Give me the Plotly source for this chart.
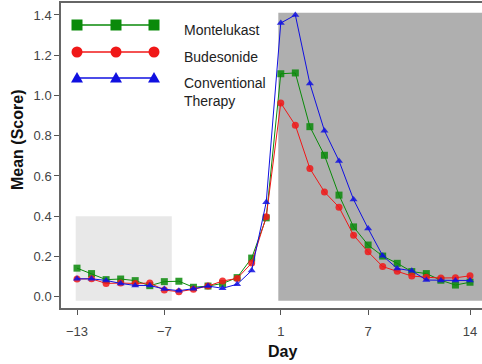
import plotly.graph_objects as go

days = [-13, -12, -11, -10, -9, -8, -7, -6, -5, -4, -3, -2, -1, 0,
        1, 2, 3, 4, 5, 6, 7, 8, 9, 10, 11, 12, 13, 14]

montelukast = [0.142, 0.115, 0.085, 0.088, 0.080, 0.055, 0.075, 0.077, 0.047, 0.053, 0.066, 0.095, 0.192, 0.392,
               1.108, 1.112, 0.845, 0.703, 0.505, 0.347, 0.257, 0.202, 0.166, 0.125, 0.115, 0.082, 0.058, 0.072]
budesonide = [0.088, 0.089, 0.066, 0.068, 0.066, 0.068, 0.033, 0.025, 0.037, 0.053, 0.078, 0.091, 0.167, 0.397,
              0.963, 0.852, 0.637, 0.521, 0.445, 0.306, 0.223, 0.150, 0.126, 0.103, 0.097, 0.093, 0.094, 0.104]
conventional = [0.089, 0.089, 0.081, 0.066, 0.056, 0.056, 0.038, 0.030, 0.040, 0.053, 0.042, 0.062, 0.130, 0.470,
                1.360, 1.400, 1.059, 0.825, 0.675, 0.483, 0.339, 0.204, 0.140, 0.129, 0.083, 0.081, 0.081, 0.081]

series_names = ["Montelukast", "Budesonide", "Conventional<br>Therapy"]
series_values = [montelukast, budesonide, conventional]
series_colors = ["#0a8a0a", "#f01818", "#1010e0"]
series_symbols = ["square", "circle", "triangle-up"]

x_ticks = [-13, -7, 1, 7, 14]
y_ticks = [0.0, 0.2, 0.4, 0.6, 0.8, 1.0, 1.2, 1.4]

baseline_period = (-13.09, -6.49, -0.02, 0.40)
treatment_period = (0.83, 15.0, -0.02, 1.411)

W, H = 482, 364
L_PX, R_PX, T_PX, B_PX = 61, 482, 3, 308  # plot area in window pixels
ML, MR, MT, MB = L_PX, W - R_PX, T_PX, H - B_PX
PW, PH = R_PX - L_PX, B_PX - T_PX

fig = go.Figure()

fig.add_shape(type="rect", xref="x", yref="y", layer="below", line_width=0,
              x0=baseline_period[0], x1=baseline_period[1], y0=baseline_period[2], y1=baseline_period[3],
              fillcolor="#e8e8e8")
fig.add_shape(type="rect", xref="x", yref="y", layer="below", line_width=0,
              x0=treatment_period[0], x1=treatment_period[1], y0=treatment_period[2], y1=treatment_period[3],
              fillcolor="#afafaf")

for name, vals, col, sym in zip(series_names, series_values, series_colors, series_symbols):
    fig.add_trace(go.Scatter(
        x=days, y=vals, mode="lines+markers", name=name,
        line=dict(color=col, width=1),
        marker=dict(color=col, symbol=sym, size=7, opacity=0.85, line=dict(width=0)),
        showlegend=False, cliponaxis=False,
    ))

# custom legend (layout decoration in window pixels -> paper coords)
def px(xp):
    return (xp - L_PX) / PW

def py(yp):
    return 1 - (yp - T_PX) / PH

leg_rows = [25, 52, 78]
leg_x = [77, 116, 154]
for i, (name, col, sym) in enumerate(zip(series_names, series_colors, series_symbols)):
    yy = leg_rows[i]
    fig.add_shape(type="line", xref="paper", yref="paper", x0=px(leg_x[0]), x1=px(leg_x[-1]),
                  y0=py(yy), y1=py(yy), line=dict(color=col, width=1.5))
    r = 5.5
    for xx in leg_x:
        if sym == "square":
            fig.add_shape(type="rect", xref="paper", yref="paper", x0=px(xx - r), x1=px(xx + r),
                          y0=py(yy + r), y1=py(yy - r), fillcolor=col, line_width=0)
        elif sym == "circle":
            fig.add_shape(type="circle", xref="paper", yref="paper", x0=px(xx - r), x1=px(xx + r),
                          y0=py(yy + r), y1=py(yy - r), fillcolor=col, line_width=0)
        else:
            path = "M {} {} L {} {} L {} {} Z".format(px(xx - 6), py(yy + 4.5), px(xx + 6), py(yy + 4.5),
                                                    px(xx), py(yy - 6))
            fig.add_shape(type="path", xref="paper", yref="paper", path=path, fillcolor=col, line_width=0)
    fig.add_annotation(xref="paper", yref="paper", x=px(182), y=py(yy - 5), xanchor="left", yanchor="top",
                       text=name, showarrow=False, align="left",
                       font=dict(family="Arial, Liberation Sans", size=14, color="#222222"))

fig.add_annotation(xref="paper", yref="paper", x=px(282), y=py(351), xanchor="center", yanchor="middle",
                   text="<b>Day</b>", showarrow=False,
                   font=dict(family="Arial, Liberation Sans", size=16, color="#111111"))
fig.add_annotation(xref="paper", yref="paper", x=px(17), y=py(140), xanchor="center", yanchor="middle",
                   text="<b>Mean (Score)</b>", showarrow=False, textangle=-90,
                   font=dict(family="Arial, Liberation Sans", size=16, color="#111111"))

fig.update_layout(
    width=W, height=H,
    margin=dict(l=ML, r=MR, t=MT, b=MB, pad=0, autoexpand=False),
    paper_bgcolor="white", plot_bgcolor="white",
    font=dict(family="Arial, Liberation Sans", size=13, color="#444444"),
    xaxis=dict(range=[-14.099, 14.824], tickmode="array", tickvals=x_ticks, automargin=False,
               ticks="outside", ticklen=5, tickcolor="#555555", showgrid=False, zeroline=False,
               ticklabelstandoff=6,
               showline=True, linecolor="#666666", linewidth=1.5, mirror=True),
    yaxis=dict(range=[-0.056, 1.4596], tickmode="array", tickvals=y_ticks, automargin=False,
               ticktext=["{:.1f}".format(v) for v in y_ticks],
               ticks="outside", ticklen=5, tickcolor="#555555", showgrid=False, zeroline=False,
               showline=True, linecolor="#666666", linewidth=1.5),
)

fig.write_html("out.html", config={"displayModeBar": False},
               post_script="document.body.style.margin='0';document.body.style.padding='0';")
